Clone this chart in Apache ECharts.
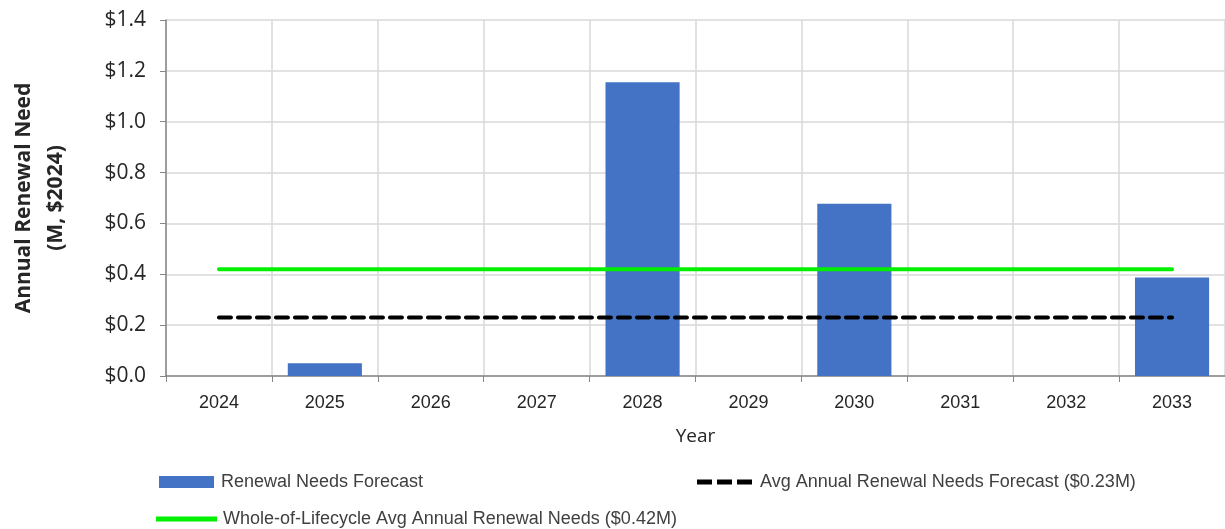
<!DOCTYPE html>
<html>
<head>
<meta charset="utf-8">
<script src="https://cdn.jsdelivr.net/npm/echarts@6/dist/echarts.min.js"></script>
<style>html,body{margin:0;padding:0;background:#fff}#c{width:1225px;height:529px}</style>
</head>
<body>
<div id="c"></div>
<script>
const years = ['2024','2025','2026','2027','2028','2029','2030','2031','2032','2033'];
const renewalForecast = [0, 0.05, 0, 0, 1.155, 0, 0.677, 0, 0, 0.387];
const avgAnnualForecast = 0.23;
const lifecycleAvg = 0.42;
const yTicks = [0, 0.2, 0.4, 0.6, 0.8, 1.0, 1.2, 1.4];

const avgLine = years.map(() => avgAnnualForecast);
const lifeLine = years.map(() => lifecycleAvg);

const chart = echarts.init(document.getElementById('c'), null, {renderer: 'canvas'});
const txt = '#404040';
const green = '#00f000';
const legFont = (pl) => ({fontFamily: 'Liberation Sans', fontSize: 18, color: txt, padding: [0, 0, 0, pl]});
chart.setOption({
  animation: false,
  grid: {left: 165, right: -2, top: 20, bottom: 153, containLabel: false},
  legend: [
    {left: 159, top: 473, padding: 0, itemWidth: 55, itemHeight: 12, textStyle: legFont(2),
     data: [{name: 'Renewal Needs Forecast', icon: 'rect'}]},
    {left: 697, top: 473, padding: 0, itemWidth: 55, itemHeight: 5, textStyle: legFont(3),
     data: [{name: 'Avg Annual Renewal Needs Forecast ($0.23M)',
             icon: 'path://M0,0h15v5h-15z M20,0h15v5h-15z M40,0h15v5h-15z'}]},
    {left: 156, top: 510, padding: 0, itemWidth: 61, itemHeight: 5, textStyle: legFont(1),
     data: [{name: 'Whole-of-Lifecycle Avg Annual Renewal Needs ($0.42M)',
             icon: 'path://M0,0h61v5h-61z', itemStyle: {color: green}}]}
  ],
  xAxis: {
    type: 'category', data: years, boundaryGap: true,
    name: 'Year', nameLocation: 'middle', nameGap: 51,
    nameTextStyle: {fontFamily: 'Open Sans', fontSize: 19, color: '#262626'},
    axisLine: {lineStyle: {color: '#868686', width: 1.5}},
    axisTick: {show: true, length: 6, lineStyle: {color: '#868686'}},
    axisLabel: {fontFamily: 'Liberation Sans', fontSize: 18, color: '#262626', margin: 18},
    splitLine: {show: true, lineStyle: {color: '#d9d9d9', width: 1.5}}
  },
  yAxis: {
    type: 'value', min: 0, max: 1.4, interval: 0.2,
    name: 'Annual Renewal Need\n(M, $2024)', nameLocation: 'middle', nameGap: 94, nameRotate: 90,
    nameTextStyle: {fontFamily: 'Open Sans', fontWeight: 'bold', fontSize: 21, color: '#262626', lineHeight: 32},
    axisLine: {show: true, lineStyle: {color: '#868686', width: 1.5}},
    axisTick: {show: true, length: 6, inside: false, lineStyle: {color: '#868686'}},
    axisLabel: {fontFamily: 'Open Sans', fontSize: 21, color: '#262626', margin: 20,
      formatter: v => '$' + v.toFixed(1)},
    splitLine: {show: true, lineStyle: {color: '#d9d9d9', width: 1.5}}
  },
  series: [
    {name: 'Renewal Needs Forecast', type: 'bar', data: renewalForecast, barWidth: '70%',
     itemStyle: {color: '#4472c4'}},
    {name: 'Avg Annual Renewal Needs Forecast ($0.23M)', type: 'line', data: avgLine, symbol: 'none',
     lineStyle: {color: '#000', width: 4, type: [12, 7], cap: 'round'}, itemStyle: {color: '#000'}},
    {name: 'Whole-of-Lifecycle Avg Annual Renewal Needs ($0.42M)', type: 'line', data: lifeLine, symbol: 'none',
     lineStyle: {color: green, width: 4, cap: 'round'}, itemStyle: {color: green}}
  ]
});
</script>
</body>
</html>
